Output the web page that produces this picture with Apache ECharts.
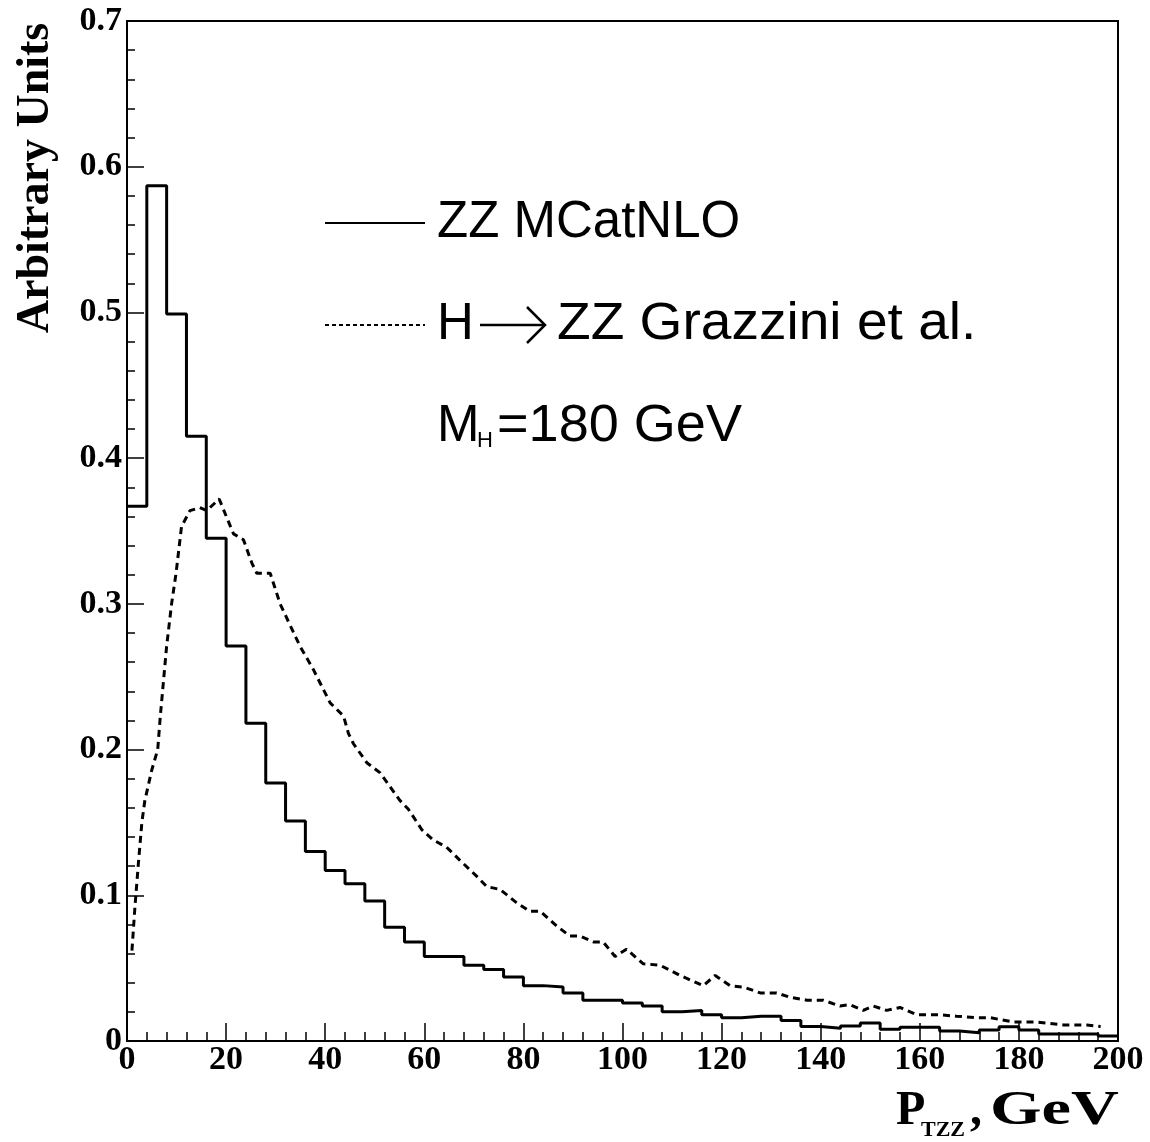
<!DOCTYPE html>
<html>
<head>
<meta charset="utf-8">
<title>PTZZ</title>
<script src="https://cdn.jsdelivr.net/npm/echarts@6/dist/echarts.min.js"></script>
<style>
body { margin: 0; background: #fff; }
#main { width: 1150px; height: 1142px; }
</style>
</head>
<body>
<div id="main"></div>
<script>
// ZZ MCatNLO histogram, 4 GeV bins from 0 to 200
var binEdges = [0,4,8,12,16,20,24,28,32,36,40,44,48,52,56,60,64,68,72,76,80,84,88,92,96,
                100,104,108,112,116,120,124,128,132,136,140,144,148,152,156,160,164,168,172,176,180,184,188,192,196,200];
var mcatnlo = [0.367,0.587,0.499,0.415,0.345,0.271,0.218,0.177,0.151,0.130,
               0.117,0.108,0.096,0.078,0.068,0.058,0.058,0.052,0.049,0.044,
               0.038,0.037,0.033,0.028,0.028,0.026,0.024,0.020,0.021,0.018,
               0.016,0.017,0.017,0.014,0.010,0.0087,0.0103,0.0124,0.0080,0.0094,
               0.0094,0.0069,0.0057,0.0075,0.0098,0.0075,0.0048,0.0048,0.0048,0.0034];

// H -> ZZ Grazzini et al. curve
var grazX = [1.0,1.6,2.3,3.0,3.6,5.0,6.2,6.7,8.0,9.0,9.9,11.0,12.7,14.7,16.1,18.6,19.8,21.5,23.5,25.2,
             26.2,28.9,30.9,34.9,37.6,41.0,43.7,44.7,45.7,48.4,51.1,55.1,56.8,59.5,61.8,64.5,67.2,70.6,72.6,75.3,
             78.6,81.3,83.4,86.7,89.4,91.4,94.1,96.1,98.5,100.8,104.2,107.6,111.6,114.3,116.3,118.7,121.7,124.4,127.8,131.1,
             133.8,137.2,140.5,143.9,145.9,148.6,150.6,153.3,156.0,159.4,164.1,167.4,171.5,174.2,178.9,183.6,189.0,193.7,196.5];
var grazY = [0.062,0.092,0.122,0.150,0.165,0.186,0.200,0.222,0.271,0.300,0.321,0.353,0.364,0.366,0.364,0.372,0.362,0.348,0.344,0.328,
             0.321,0.321,0.300,0.271,0.255,0.232,0.223,0.211,0.204,0.191,0.184,0.165,0.159,0.145,0.138,0.133,0.124,0.113,0.106,0.104,
             0.095,0.089,0.089,0.079,0.072,0.072,0.068,0.068,0.058,0.063,0.053,0.052,0.045,0.041,0.038,0.045,0.038,0.037,0.033,0.033,
             0.030,0.028,0.028,0.024,0.025,0.021,0.024,0.021,0.023,0.018,0.018,0.017,0.016,0.016,0.013,0.013,0.011,0.011,0.010];

var xTicks = [0,20,40,60,80,100,120,140,160,180,200];
var yTicks = [0,0.1,0.2,0.3,0.4,0.5,0.6,0.7];

var histData = [];
for (var i = 0; i < mcatnlo.length; i++) {
    histData.push([binEdges[i], mcatnlo[i]]);
}
histData.push([binEdges[binEdges.length - 1], mcatnlo[mcatnlo.length - 1]]);

var curveData = [];
for (var j = 0; j < grazX.length; j++) {
    curveData.push([grazX[j], grazY[j]]);
}

var serif = 'Liberation Serif, DejaVu Serif, serif';
var sans = 'Liberation Sans, DejaVu Sans, sans-serif';

option = {
    backgroundColor: '#fff',
    animation: false,
    grid: {
        left: 127, top: 21, width: 991, height: 1020,
        show: true, borderColor: '#000', borderWidth: 2, backgroundColor: '#fff'
    },
    xAxis: {
        type: 'value',
        min: xTicks[0], max: xTicks[xTicks.length - 1], interval: 20,
        axisLine: { show: true, lineStyle: { color: '#000', width: 2 } },
        axisTick: { show: true, inside: true, length: 18, lineStyle: { color: '#000', width: 1.5 } },
        minorTick: { show: true, splitNumber: 5, length: 9, lineStyle: { color: '#000', width: 1.5 } },
        splitLine: { show: false },
        axisLabel: { color: '#000', fontFamily: serif, fontWeight: 'bold', fontSize: 34, margin: 2 }
    },
    yAxis: {
        type: 'value',
        min: yTicks[0], max: yTicks[yTicks.length - 1], interval: 0.1,
        axisLine: { show: true, lineStyle: { color: '#000', width: 2 } },
        axisTick: { show: true, inside: true, length: 17, lineStyle: { color: '#000', width: 1.5 } },
        minorTick: { show: true, splitNumber: 5, length: 8, lineStyle: { color: '#000', width: 1.5 } },
        splitLine: { show: false },
        axisLabel: {
            color: '#000', fontFamily: serif, fontWeight: 'bold', fontSize: 34, margin: 5,
            formatter: function (v) { return v === 0 ? '0' : v.toFixed(1); }
        }
    },
    series: [
        {
            name: 'ZZ MCatNLO',
            type: 'line',
            step: 'end',
            symbol: 'none',
            data: histData,
            lineStyle: { color: '#000', width: 3 }
        },
        {
            name: 'H -> ZZ Grazzini et al.',
            type: 'line',
            symbol: 'none',
            data: curveData,
            lineStyle: { color: '#000', width: 3, type: [7, 5] }
        }
    ],
    graphic: [
        // legend
        { type: 'line', shape: { x1: 325, y1: 223, x2: 425, y2: 223 }, style: { stroke: '#000', lineWidth: 2 } },
        { type: 'text', x: 437, y: 223, style: { text: 'ZZ MCatNLO', font: '51px ' + sans, fill: '#000', verticalAlign: 'middle' } },
        { type: 'line', shape: { x1: 325, y1: 325, x2: 425, y2: 325 }, style: { stroke: '#000', lineWidth: 2, lineDash: [4, 3] } },
        { type: 'text', x: 437, y: 325, style: { text: 'H', font: '51px ' + sans, fill: '#000', verticalAlign: 'middle' } },
        { type: 'line', shape: { x1: 480, y1: 325, x2: 545, y2: 325 }, style: { stroke: '#000', lineWidth: 2.5 } },
        { type: 'polyline', shape: { points: [[527, 307], [545, 325], [527, 343]] }, style: { stroke: '#000', lineWidth: 2.5, fill: null } },
        { type: 'text', x: 557, y: 325, scaleX: 1.08,
          style: { text: 'ZZ Grazzini et al.', font: '51px ' + sans, fill: '#000', verticalAlign: 'middle' } },
        { type: 'text', x: 437, y: 427, style: { text: 'M', font: '51px ' + sans, fill: '#000', verticalAlign: 'middle' } },
        { type: 'text', x: 477, y: 441, style: { text: 'H', font: '22px ' + sans, fill: '#000', verticalAlign: 'middle' } },
        { type: 'text', x: 497, y: 427, scaleX: 1.06,
          style: { text: '=180 GeV', font: '51px ' + sans, fill: '#000', verticalAlign: 'middle' } },
        // axis titles
        { type: 'text', x: 36, y: 178, rotation: Math.PI / 2,
          style: { text: 'Arbitrary Units', font: 'bold 46px ' + serif, fill: '#000', align: 'center', verticalAlign: 'middle' } },
        { type: 'text', x: 896, y: 1112, style: { text: 'P', font: 'bold 48px ' + serif, fill: '#000', verticalAlign: 'middle' } },
        { type: 'text', x: 921, y: 1130, style: { text: 'TZZ', font: 'bold 22px ' + serif, fill: '#000', verticalAlign: 'middle' } },
        { type: 'text', x: 970, y: 1112, style: { text: ',', font: 'bold 48px ' + serif, fill: '#000', verticalAlign: 'middle' } },
        { type: 'text', x: 990, y: 1112, scaleX: 1.38,
          style: { text: 'GeV', font: 'bold 48px ' + serif, fill: '#000', verticalAlign: 'middle' } }
    ]
};

var chart = echarts.init(document.getElementById('main'));
chart.setOption(option);
</script>
</body>
</html>
